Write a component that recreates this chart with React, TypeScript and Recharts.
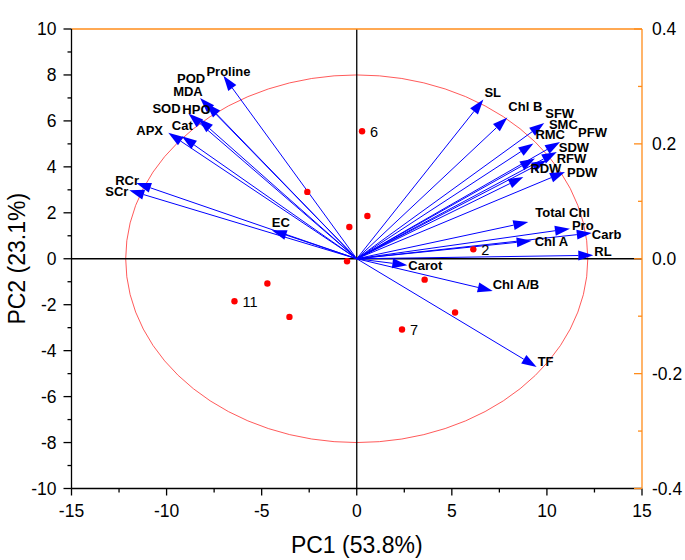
import React from 'react';
import {
  ScatterChart, Scatter, XAxis, YAxis, ReferenceLine, ReferenceArea,
} from 'recharts';

// PCA scores (observations)
const scorePC1 = [-2.6, -0.39, 0.56, -0.51, 0.28, 6.13, 3.57, 5.17, 2.38, -4.7, -6.43, -3.54];
const scorePC2 = [2.91, 1.38, 1.86, -0.11, 5.55, 0.41, -0.91, -2.34, -3.08, -1.08, -1.85, -2.53];
const scoreLabels = ['', '', '', '', '6', '2', '', '', '7', '', '11', ''];

// loading vectors, already scaled to score units
const varNames = [
  'Proline', 'POD', 'MDA', 'SOD', 'HPO', 'APX', 'Cat', 'RCr', 'SCr', 'EC',
  'SL', 'Chl B', 'SFW', 'SMC', 'RMC', 'PFW', 'SDW', 'RFW', 'RDW', 'PDW',
  'Total Chl', 'Pro', 'Carb', 'Chl A', 'RL', 'Carot', 'Chl A/B', 'TF',
];
const varPC1 = [
  -7.01, -8.24, -7.92, -8.85, -8.33, -9.91, -9.2, -11.6, -11.96, -4.47,
  6.66, 7.92, 9.86, 9.37, 9.29, 10.69, 10.52, 9.99, 8.76, 10.95,
  9.02, 11.21, 12.36, 9.2, 12.44, 2.66, 7.15, 9.46,
];
const varPC2 = [
  7.96, 7.0, 6.77, 6.32, 6.1, 5.48, 5.33, 3.3, 2.98, 1.24,
  6.93, 6.15, 5.91, 4.36, 5.02, 5.08, 4.65, 4.29, 3.56, 3.78,
  1.6, 1.31, 1.12, 0.78, 0.15, -0.28, -1.4, -4.71,
];

// semi-axes of the red ellipse
const ellipseRX = 12.15;
const ellipseRY = 8.0;

const pc1Ticks = [-15, -12.5, -10, -7.5, -5, -2.5, 0, 2.5, 5, 7.5, 10, 12.5, 15];
const pc2Ticks = [-10, -9, -8, -7, -6, -5, -4, -3, -2, -1, 0, 1, 2, 3, 4, 5, 6, 7, 8, 9, 10];
const topTicks = [-0.2, -0.1, 0, 0.1, 0.2];
const rightTicks = [-0.4, -0.3, -0.2, -0.1, 0, 0.1, 0.2, 0.3, 0.4];

// pixel nudges for the variable names, relative to the arrow tip
const labelNudge: Record<string, [number, number]> = {
  Proline: [-17, 0], POD: [-23, -15], MDA: [-33, -7], SOD: [-36, -1], HPO: [-16, -5],
  APX: [-32, 2], Cat: [-10, -6], RCr: [-21, 2], SCr: [-24, 6], EC: [0, -3],
  SL: [1, -3], 'Chl B': [1, -6], SFW: [1, -5], SMC: [14, -30], RMC: [2, -4],
  PFW: [18, -5], SDW: [2, 0], RFW: [10, 3], RDW: [7, -4], PDW: [2, 5],
  'Total Chl': [7, -5], Pro: [2, 1], Carb: [0, 6], 'Chl A': [3, 5], RL: [1, 1],
  Carot: [1, 5], 'Chl A/B': [0, -2], TF: [1, -1],
};

const FONT = '"Liberation Sans", Arial, sans-serif';
const ORANGE = '#ff8c1a';
const BLUE = '#0000ff';
const TICK_FS = 17.5;

const scores = scorePC1.map((x, i) => ({ x, y: scorePC2[i], label: scoreLabels[i] }));

function BottomTick({ x, y, payload }: any) {
  const v = payload.value;
  const major = v % 5 === 0;
  return (
    <g>
      <line x1={x} y1={y} x2={x} y2={y + (major ? 7 : 4)} stroke="#000" strokeWidth={1.3} />
      {major && (
        <text x={x} y={y + 28} textAnchor="middle" fontSize={TICK_FS} fontFamily={FONT} fill="#000">{v}</text>
      )}
    </g>
  );
}

function LeftTick({ x, y, payload }: any) {
  const v = payload.value;
  const major = v % 2 === 0;
  return (
    <g>
      <line x1={x - (major ? 8 : 4)} y1={y} x2={x} y2={y} stroke="#000" strokeWidth={1.3} />
      {major && (
        <text x={x - 15} y={y + 6} textAnchor="end" fontSize={TICK_FS} fontFamily={FONT} fill="#000">{v}</text>
      )}
    </g>
  );
}

function TopTick({ x, y, payload }: any) {
  const v = payload.value;
  const major = Math.round(v * 10) % 2 === 0;
  return (
    <g>
      <line x1={x} y1={y} x2={x} y2={y + (major ? 8 : 4)} stroke={ORANGE} strokeWidth={1.3} />
      {major && (
        <text x={x} y={y - 14} textAnchor="middle" fontSize={TICK_FS} fontFamily={FONT} fill="#000">{v.toFixed(1)}</text>
      )}
    </g>
  );
}

function RightTick({ x, y, payload }: any) {
  const v = payload.value;
  const major = Math.round(v * 10) % 2 === 0;
  return (
    <g>
      <line x1={x - (major ? 8 : 4)} y1={y} x2={x} y2={y} stroke={ORANGE} strokeWidth={1.3} />
      {major && (
        <text x={x + 10} y={y + 6} textAnchor="start" fontSize={TICK_FS} fontFamily={FONT} fill="#000">{v.toFixed(1)}</text>
      )}
    </g>
  );
}

function arrowShape(name: string) {
  return (p: any) => {
    const { x1, y1, x2, y2 } = p;
    const dx = x2 - x1;
    const dy = y2 - y1;
    const len = Math.hypot(dx, dy) || 1;
    const ux = dx / len;
    const uy = dy / len;
    const hl = 15;
    const hw = 5;
    const bx = x2 - ux * hl;
    const by = y2 - uy * hl;
    const pts = `${x2},${y2} ${bx - uy * hw},${by + ux * hw} ${bx + uy * hw},${by - ux * hw}`;
    const [nx, ny] = labelNudge[name] ?? [0, 0];
    return (
      <g>
        <line x1={x1} y1={y1} x2={bx} y2={by} stroke={BLUE} strokeWidth={1} />
        <polygon points={pts} fill={BLUE} />
        <text x={x2 + nx} y={y2 + ny} fontSize={13} fontWeight="bold" fontFamily={FONT} fill="#000">{name}</text>
      </g>
    );
  };
}

function ScoreDot(p: any) {
  const { cx, cy, payload } = p;
  return (
    <g>
      <circle cx={cx} cy={cy} r={3.2} fill="#ff0000" />
      {payload.label && (
        <text x={cx + 8} y={cy + 5.5} fontSize={14.5} fontFamily={FONT} fill="#000">{payload.label}</text>
      )}
    </g>
  );
}

function EllipseShape(p: any) {
  const { x, y, width, height } = p;
  return (
    <ellipse cx={x + width / 2} cy={y + height / 2} rx={width / 2} ry={height / 2}
      fill="none" stroke="#ff3030" strokeWidth={0.8} />
  );
}

function XTitle(p: any) {
  const vb = p.viewBox ?? { x: 71.5, y: 488.5, width: 570.5, height: 71.5 };
  return (
    <text x={vb.x + vb.width / 2} y={vb.y + 64} textAnchor="middle" fontSize={23} fontFamily={FONT} fill="#000">
      PC1 (53.8%)
    </text>
  );
}

function YTitle(p: any) {
  const vb = p.viewBox ?? { x: 0, y: 29, width: 71.5, height: 459.5 };
  const cx = vb.x + 25;
  const cy = vb.y + vb.height / 2;
  return (
    <text x={cx} y={cy} transform={`rotate(-90, ${cx}, ${cy})`} textAnchor="middle" fontSize={23} fontFamily={FONT} fill="#000">
      PC2 (23.1%)
    </text>
  );
}

export default function App() {
  return (
    <div style={{ position: 'absolute', left: 0, top: 0, background: '#fff' }}>
      <ScatterChart width={685} height={560} margin={{ top: 0, right: 0, bottom: 0, left: 0 }}>
        <XAxis type="number" dataKey="x" domain={[-15, 15]} ticks={pc1Ticks} interval={0} allowDataOverflow
          height={71.5} axisLine={{ stroke: '#000', strokeWidth: 1.3 }} tickLine={false} tickSize={0} tickMargin={0}
          tick={<BottomTick />} label={{ content: <XTitle /> }} />
        <XAxis xAxisId="top" orientation="top" type="number" domain={[-0.3, 0.3]} ticks={topTicks} interval={0}
          allowDataOverflow height={29} axisLine={{ stroke: ORANGE, strokeWidth: 1.3 }} tickLine={false} tickSize={0}
          tickMargin={0} tick={<TopTick />} />
        <YAxis type="number" dataKey="y" domain={[-10, 10]} ticks={pc2Ticks} interval={0} allowDataOverflow
          width={71.5} axisLine={{ stroke: '#000', strokeWidth: 1.3 }} tickLine={false} tickSize={0} tickMargin={0}
          tick={<LeftTick />} label={{ content: <YTitle /> }} />
        <YAxis yAxisId="right" orientation="right" type="number" domain={[-0.4, 0.4]} ticks={rightTicks} interval={0}
          allowDataOverflow width={43} axisLine={{ stroke: ORANGE, strokeWidth: 1.3 }} tickLine={false} tickSize={0}
          tickMargin={0} tick={<RightTick />} />

        <ReferenceArea x1={-ellipseRX} x2={ellipseRX} y1={-ellipseRY} y2={ellipseRY} shape={EllipseShape} />
        <ReferenceLine x={0} stroke="#000" strokeWidth={1.3} />
        <ReferenceLine y={0} stroke="#000" strokeWidth={1.3} />

        {varNames.map((name, i) => (
          <ReferenceLine key={name} segment={[{ x: 0, y: 0 }, { x: varPC1[i], y: varPC2[i] }]}
            shape={arrowShape(name)} />
        ))}

        <Scatter data={scores} shape={ScoreDot} isAnimationActive={false} />
      </ScatterChart>
    </div>
  );
}
